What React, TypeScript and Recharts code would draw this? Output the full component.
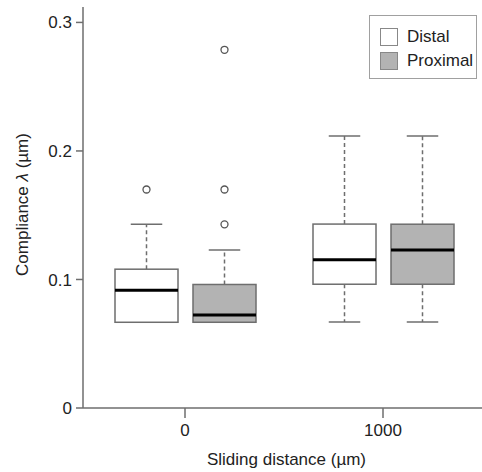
import { BarChart, Bar, XAxis, YAxis, Legend } from 'recharts'

const groups = ['0', '1000']
const seriesNames = ['Distal', 'Proximal']
const seriesFills = ['#ffffff', '#b3b3b3']

// five-number summaries, one entry per group
const distalLow = [0.0667, 0.067]
const distalQ1 = [0.0667, 0.0963]
const distalMedian = [0.0917, 0.1153]
const distalQ3 = [0.108, 0.1431]
const distalHigh = [0.1429, 0.2117]
const distalOutliers = [[0.170], []]

const proximalLow = [0.0667, 0.067]
const proximalQ1 = [0.0667, 0.0963]
const proximalMedian = [0.0724, 0.123]
const proximalQ3 = [0.0961, 0.143]
const proximalHigh = [0.123, 0.2117]
const proximalOutliers = [[0.1429, 0.170, 0.2787], []]

const yTicks = [0, 0.1, 0.2, 0.3]

const data = groups.map((group, i) => ({
  group,
  d: { lo: distalLow[i], q1: distalQ1[i], med: distalMedian[i], q3: distalQ3[i], hi: distalHigh[i], out: distalOutliers[i] },
  p: { lo: proximalLow[i], q1: proximalQ1[i], med: proximalMedian[i], q3: proximalQ3[i], hi: proximalHigh[i], out: proximalOutliers[i] },
  dRange: [distalLow[i], distalHigh[i]],
  pRange: [proximalLow[i], proximalHigh[i]]
}))

const FONT = '"Liberation Sans", Arial, sans-serif'
const AXIS = '#6e6e6e'
const TEXT = '#222'
const FS = 17

function BoxShape(props: any) {
  const { x, y, width, height, payload, k, fill } = props
  const s = payload[k]
  const top = Math.min(y, y + height)
  const h = Math.abs(height)
  const ppu = h / (s.hi - s.lo)
  const py = (v: number) => top + (s.hi - v) * ppu
  const cx = x + width / 2
  const cap = width / 4
  return (
    <g>
      {s.hi > s.q3 && (
        <>
          <line x1={cx} x2={cx} y1={py(s.q3)} y2={py(s.hi)} stroke={AXIS} strokeWidth={1.5} strokeDasharray="4 3" />
          <line x1={cx - cap} x2={cx + cap} y1={py(s.hi)} y2={py(s.hi)} stroke={AXIS} strokeWidth={1.5} />
        </>
      )}
      {s.lo < s.q1 && (
        <>
          <line x1={cx} x2={cx} y1={py(s.q1)} y2={py(s.lo)} stroke={AXIS} strokeWidth={1.5} strokeDasharray="4 3" />
          <line x1={cx - cap} x2={cx + cap} y1={py(s.lo)} y2={py(s.lo)} stroke={AXIS} strokeWidth={1.5} />
        </>
      )}
      <rect x={x} y={py(s.q3)} width={width} height={py(s.q1) - py(s.q3)} fill={fill} stroke={AXIS} strokeWidth={1.5} />
      <line x1={x} x2={x + width} y1={py(s.med)} y2={py(s.med)} stroke="#000" strokeWidth={3} />
      {s.out.map((v: number, i: number) => (
        <circle key={i} cx={cx} cy={py(v)} r={3.5} fill="none" stroke="#555" strokeWidth={1.3} />
      ))}
    </g>
  )
}

function LegendBox({ payload }: any) {
  return (
    <div
      style={{
        position: 'relative',
        width: 108,
        height: 64,
        border: '1px solid #a0a0a0',
        boxSizing: 'border-box',
        background: '#fff',
        fontFamily: FONT,
        fontSize: FS,
        color: TEXT
      }}
    >
      {(payload || []).map((entry: any, i: number) => (
        <div
          key={entry.value}
          style={{ position: 'absolute', left: 10, top: 12 + i * 24, display: 'flex', alignItems: 'center', lineHeight: '18px' }}
        >
          <span
            style={{
              display: 'inline-block',
              width: 18,
              height: 18,
              boxSizing: 'border-box',
              border: '1px solid #888',
              background: entry.color,
              marginRight: 9
            }}
          />
          <span>{entry.value}</span>
        </div>
      ))}
    </div>
  )
}

function YTitle({ viewBox }: any) {
  const cy = viewBox.y + viewBox.height / 2 - 3
  return (
    <text transform={`translate(28, ${cy}) rotate(-90)`} textAnchor="middle" fontSize={FS} fill={TEXT} fontFamily={FONT}>
      Compliance <tspan fontStyle="italic">λ</tspan> (µm)
    </text>
  )
}

function XTitle({ viewBox }: any) {
  const cx = viewBox.x + viewBox.width / 2 + 4
  return (
    <text x={cx} y={465} textAnchor="middle" fontSize={FS} fill={TEXT} fontFamily={FONT}>
      Sliding distance (µm)
    </text>
  )
}

export default function App() {
  return (
    <div style={{ position: 'fixed', left: 0, top: 0, width: 482, height: 472, background: '#fff' }}>
      <BarChart
        width={482}
        height={472}
        data={data}
        margin={{ top: 7, right: 0, bottom: 0, left: 0 }}
        barSize={63}
        barGap={15}
        style={{ fontFamily: FONT }}
      >
        <XAxis
          dataKey="group"
          type="category"
          height={64}
          padding={{ left: 3, right: 0 }}
          stroke={AXIS}
          strokeWidth={1.5}
          tickSize={10}
          tickMargin={6}
          tick={{ fill: TEXT, fontSize: FS }}
          label={<XTitle />}
        />
        <YAxis
          width={83}
          domain={[0, 0.312]}
          ticks={yTicks}
          allowDataOverflow
          tickFormatter={(v: number) => String(v)}
          stroke={AXIS}
          strokeWidth={1.5}
          tickSize={7}
          tickMargin={4}
          tick={{ fill: TEXT, fontSize: FS }}
          label={<YTitle />}
        />
        <Legend
          layout="horizontal"
          align="center"
          verticalAlign="middle"
          content={<LegendBox />}
          wrapperStyle={{ top: 15, left: 369, width: 108, height: 64 }}
        />
        <Bar
          dataKey="dRange"
          name={seriesNames[0]}
          fill={seriesFills[0]}
          isAnimationActive={false}
          shape={(p: any) => <BoxShape {...p} k="d" fill={seriesFills[0]} />}
        />
        <Bar
          dataKey="pRange"
          name={seriesNames[1]}
          fill={seriesFills[1]}
          isAnimationActive={false}
          shape={(p: any) => <BoxShape {...p} k="p" fill={seriesFills[1]} />}
        />
      </BarChart>
    </div>
  )
}
